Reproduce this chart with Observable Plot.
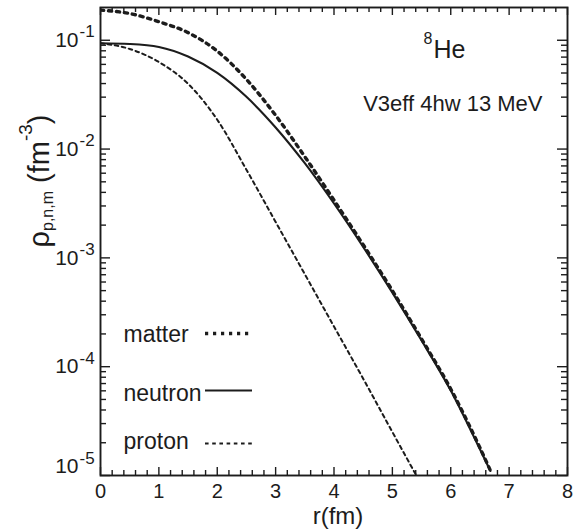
<!DOCTYPE html>
<html>
<head>
<meta charset="utf-8">
<script src="https://cdn.jsdelivr.net/npm/d3@7"></script>
<script src="https://cdn.jsdelivr.net/npm/@observablehq/plot@0.6"></script>
<style>
  html, body { margin: 0; padding: 0; background: #fff; }
  svg { display: block; }
</style>
</head>
<body>
<div id="chart"></div>
<script>
// ---- data ----
const rMatter  = [0, 0.5, 1, 1.5, 2, 2.5, 3, 3.5, 4, 4.5, 5, 5.5, 6, 6.5, 6.7];
const matter   = [0.189, 0.176, 0.148, 0.1175, 0.0794, 0.0437, 0.0204, 0.00851, 0.00339, 0.00132, 5.0e-4, 1.80e-4, 6.24e-5, 1.80e-5, 1.05e-5];
const rNeutron = [0, 0.5, 1, 1.5, 2, 2.5, 3, 3.5, 4, 4.5, 5, 5.5, 6, 6.5, 6.68];
const neutron  = [0.0938, 0.0923, 0.0867, 0.0708, 0.0501, 0.0302, 0.0158, 0.00741, 0.00316, 0.00126, 4.79e-4, 1.74e-4, 6.03e-5, 1.74e-5, 1.1e-5];
const rProton  = [0, 0.5, 1, 1.5, 2, 2.5, 3, 3.5, 4, 4.5, 5, 5.41];
const proton   = [0.0938, 0.0832, 0.0631, 0.0398, 0.0186, 0.00646, 0.00214, 7.08e-4, 2.34e-4, 7.76e-5, 2.51e-5, 1.0e-5];

const xTickValues = [0, 1, 2, 3, 4, 5, 6, 7, 8];
const xTickLabels = ["0", "1", "2", "3", "4", "5", "6", "7", "8"];
const yTickValues = [1e-5, 1e-4, 1e-3, 1e-2, 1e-1];
const yTickBase = "10";
const yExponents = ["-5", "-4", "-3", "-2", "-1"];
const legendNames = ["matter", "neutron", "proton"];
const yTitle = ["ρ", "p,n,m", " (fm", "-3", ")"];

// ---- layout / style ----
const W = 584, H = 532, mL = 100, mR = 17, mT = 7, mB = 57;
const pw = W - mL - mR, ph = H - mT - mB;
const ink = "#1c1c1c";
const font = "'Liberation Sans', Arial, Helvetica, sans-serif";
const xDomain = [0, 8], yDomain = [1e-5, 0.2];

const rows = (rs, vs) => rs.map((r, i) => ({r, v: vs[i]}));
const matterRows = rows(rMatter, matter);
const neutronRows = rows(rNeutron, neutron);
const protonRows = rows(rProton, proton);

const xMinor = d3.range(0, 8.001, 0.2).filter(v => Math.abs(v - Math.round(v)) > 1e-6);
const yMinor = d3.range(-5, -1).flatMap(e => d3.range(2, 10).map(k => k * Math.pow(10, e)));

// legend placement (pixels -> data via Plot's own scale)
const xs = Plot.scale({x: {domain: xDomain, range: [mL, W - mR]}});
const ys = Plot.scale({y: {type: "log", domain: yDomain, range: [H - mB, mT]}});
const legendKeyPx = [333, 390, 443];
const legendTextBase = [341.5, 400, 448];
const styles = {
  matter:  {strokeWidth: 3.4, strokeDasharray: "3.2,4.8"},
  neutron: {strokeWidth: 2.1, strokeDasharray: null},
  proton:  {strokeWidth: 2.0, strokeDasharray: "3.6,3.6"}
};
const legendKeys = legendNames.map((n, i) => ({
  name: n, y: ys.invert(legendKeyPx[i]),
  x1: xs.invert(205), x2: xs.invert(n === "matter" ? 249 : 252)
}));

const tickStyle = {stroke: ink, strokeWidth: 1.4};

const chart = Plot.plot({
  width: W, height: H,
  marginLeft: mL, marginRight: mR, marginTop: mT, marginBottom: mB,
  style: {fontFamily: font, background: "#fff", color: ink},
  x: {domain: xDomain, axis: null},
  y: {type: "log", domain: yDomain, axis: null},
  marks: [
    // curves
    Plot.line(protonRows, {x: "r", y: "v", stroke: ink, ...styles.proton, curve: "monotone-x", clip: true}),
    Plot.line(neutronRows, {x: "r", y: "v", stroke: ink, ...styles.neutron, curve: "monotone-x", clip: true}),
    Plot.line(matterRows, {x: "r", y: "v", stroke: ink, ...styles.matter, curve: "monotone-x", clip: true}),

    // inward ticks, all four sides
    Plot.tickY(yTickValues, {y: d => d, insetRight: pw - 10, ...tickStyle}),
    Plot.tickY(yTickValues, {y: d => d, insetLeft: pw - 10, ...tickStyle}),
    Plot.tickY(yMinor, {y: d => d, insetRight: pw - 6, ...tickStyle}),
    Plot.tickY(yMinor, {y: d => d, insetLeft: pw - 6, ...tickStyle}),
    Plot.tickX(xTickValues, {x: d => d, insetTop: ph - 8, ...tickStyle}),
    Plot.tickX(xTickValues, {x: d => d, insetBottom: ph - 8, ...tickStyle}),
    Plot.tickX(xMinor, {x: d => d, insetTop: ph - 5, ...tickStyle}),
    Plot.tickX(xMinor, {x: d => d, insetBottom: ph - 5, ...tickStyle}),

    Plot.frame({stroke: ink, strokeWidth: 1.9}),

    // x tick labels
    Plot.text(xTickValues, {x: d => d, text: (d, i) => xTickLabels[i], frameAnchor: "bottom",
      lineAnchor: "top", dy: 8, fontSize: 20, fill: ink}),
    // y tick labels: 10 + superscript exponent
    Plot.text(yTickValues, {y: d => d, text: () => yTickBase, frameAnchor: "left", textAnchor: "end",
      lineAnchor: "middle", dx: -22, fontSize: 21, fill: ink, filter: (d, i) => i > 0}),
    Plot.text(yTickValues, {y: d => d, text: (d, i) => yExponents[i], frameAnchor: "left", textAnchor: "start",
      lineAnchor: "bottom", dx: -21, dy: -3, fontSize: 17, fill: ink, filter: (d, i) => i > 0}),
    Plot.text(yTickValues, {y: d => d, text: () => yTickBase, frameAnchor: "left", textAnchor: "end",
      lineAnchor: "middle", dx: -22, dy: -9, fontSize: 21, fill: ink, filter: (d, i) => i === 0}),
    Plot.text(yTickValues, {y: d => d, text: (d, i) => yExponents[i], frameAnchor: "left", textAnchor: "start",
      lineAnchor: "bottom", dx: -21, dy: -12, fontSize: 17, fill: ink, filter: (d, i) => i === 0}),

    // axis titles
    Plot.text(["r(fm)"], {frameAnchor: "bottom", dx: 4, dy: 48, lineAnchor: "bottom", fontSize: 24, fill: ink}),
    Plot.text([yTitle.join("")], {frameAnchor: "top-left", dx: -52, dy: 240, rotate: -90,
      textAnchor: "start", lineAnchor: "bottom", fontSize: 29, fill: ink}),

    // annotations
    Plot.text(["He"], {frameAnchor: "top-left", dx: 333, dy: 50, textAnchor: "start", lineAnchor: "bottom", fontSize: 25, fill: ink}),
    Plot.text(["8"], {frameAnchor: "top-left", dx: 332, dy: 36, textAnchor: "end", lineAnchor: "bottom", fontSize: 16, fill: ink}),
    Plot.text(["V3eff 4hw 13 MeV"], {frameAnchor: "top-right", dx: -25, dy: 103, textAnchor: "end", lineAnchor: "bottom", fontSize: 22, fill: ink}),

    // legend
    ...legendNames.map((n, i) => Plot.text([n], {frameAnchor: "top-left", dx: 23, dy: legendTextBase[i] - mT,
      fontSize: 23, fill: ink, textAnchor: "start", lineAnchor: "bottom"})),
    ...legendKeys.map(k => Plot.ruleY([k], {y: "y", x1: "x1", x2: "x2", stroke: ink, ...styles[k.name]}))
  ]
});

document.getElementById("chart").appendChild(chart);

// rich text for the y-axis title (subscript / superscript as tspans)
const yl = d3.select(chart).selectAll("text").filter(function () { return this.textContent === yTitle.join(""); });
yl.text(null);
yl.append("tspan").text(yTitle[0]);
yl.append("tspan").attr("font-size", 16).attr("dy", 4).text(yTitle[1]);
yl.append("tspan").attr("dy", -4).text(yTitle[2]);
yl.append("tspan").attr("font-size", 19).attr("dy", -17).text(yTitle[3]);
yl.append("tspan").attr("dy", 17).text(yTitle[4]);
</script>
</body>
</html>
